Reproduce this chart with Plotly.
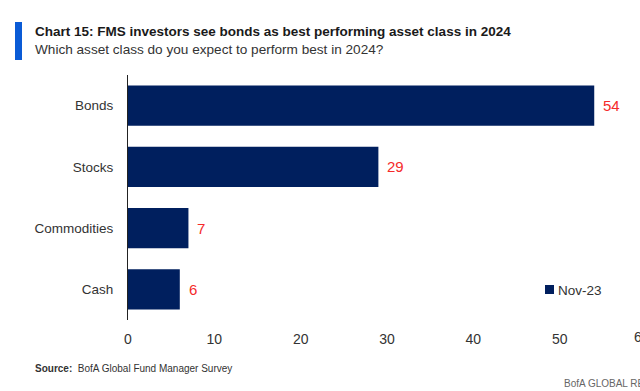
import plotly.graph_objects as go

categories = ["Bonds", "Stocks", "Commodities", "Cash"]
values = [54, 29, 7, 6]
series_name = "Nov-23"
x_ticks = [0, 10, 20, 30, 40, 50]

W, H = 640, 391
L, R, T, B = 128, 0, 75, 71
pw = W - L - R
ph = H - T - B

def px_x(p):
    return (p - L) / pw

def px_y(p):
    return 1 - (p - T) / ph

FONT = "Liberation Sans, Arial, sans-serif"
NAVY = "#001f5e"
RED = "#f52a2a"
TXT = "#333333"

fig = go.Figure()
fig.add_trace(go.Bar(
    x=values, y=categories, orientation="h", name=series_name,
    marker=dict(color=NAVY, line=dict(width=0)),
    showlegend=False,
))

fig.update_layout(
    width=W, height=H,
    margin=dict(l=L, r=R, t=T, b=B, pad=0),
    paper_bgcolor="white", plot_bgcolor="white",
    font=dict(family=FONT, color=TXT, size=13),
    bargap=0.34,
    xaxis=dict(range=[0, 59.3], tickvals=x_ticks, showgrid=False, zeroline=False,
               showline=False, ticks="", tickfont=dict(size=14, color=TXT),
               ticklabelstandoff=9),
    yaxis=dict(autorange="reversed", showgrid=False, zeroline=False, showline=True,
               linecolor="#222222", linewidth=1, ticks="",
               tickfont=dict(size=13.5, color=TXT), ticklabelstandoff=11),
    showlegend=False,
)

ann = []
for c, v in zip(categories, values):
    ann.append(dict(text=str(v), x=v, y=c, xref="x", yref="y", xanchor="left",
                    yanchor="middle", xshift=7, showarrow=False,
                    font=dict(size=15, color=RED, family=FONT)))
ann += [
    dict(text="<b>Chart 15: FMS investors see bonds as best performing asset class in 2024</b>",
         x=px_x(33), y=px_y(31), xref="paper", yref="paper", xanchor="left", yanchor="middle",
         showarrow=False, font=dict(size=13.5, color="#1a1a1a", family=FONT)),
    dict(text="Which asset class do you expect to perform best in 2024?",
         x=px_x(33), y=px_y(49), xref="paper", yref="paper", xanchor="left", yanchor="middle",
         showarrow=False, font=dict(size=13.6, color=TXT, family=FONT)),
    dict(text="<b>Source:</b>  BofA Global Fund Manager Survey",
         x=px_x(33), y=px_y(368), xref="paper", yref="paper", xanchor="left", yanchor="middle",
         showarrow=False, font=dict(size=10, color=TXT, family=FONT)),
    dict(text="BofA GLOBAL RESEARCH",
         x=px_x(562), y=px_y(383), xref="paper", yref="paper", xanchor="left", yanchor="middle",
         showarrow=False, font=dict(size=10, color="#666666", family=FONT)),
    dict(text="60", x=px_x(642), y=px_y(337), xref="paper", yref="paper",
         xanchor="center", yanchor="middle", showarrow=False,
         font=dict(size=14, color=TXT, family=FONT)),
    # legend
    dict(text=series_name, x=px_x(556), y=px_y(290), xref="paper", yref="paper",
         xanchor="left", yanchor="middle", showarrow=False,
         font=dict(size=13.5, color=TXT, family=FONT)),
]
fig.update_layout(annotations=ann)

fig.add_shape(type="rect", xref="paper", yref="paper",
              x0=px_x(15), x1=px_x(22), y0=px_y(22), y1=px_y(60),
              fillcolor="#0a5bd6", line=dict(width=0))
fig.add_shape(type="rect", xref="paper", yref="paper",
              x0=px_x(545), x1=px_x(554), y0=px_y(285), y1=px_y(294),
              fillcolor=NAVY, line=dict(width=0))

fig.write_html("out.html", config={"displayModeBar": False},
               post_script="document.body.style.margin='0';document.body.style.padding='0';document.body.style.overflow='hidden';")
